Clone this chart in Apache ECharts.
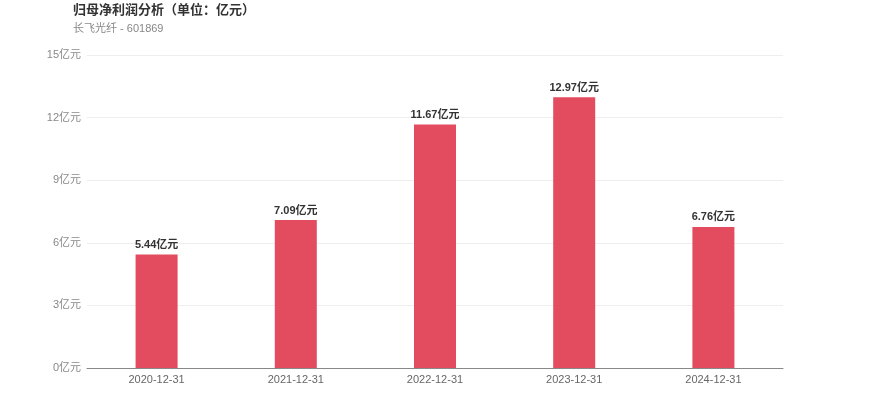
<!DOCTYPE html>
<html><head><meta charset="utf-8">
<script src="https://cdn.jsdelivr.net/npm/echarts@6/dist/echarts.min.js"></script>
<style>html,body{margin:0;padding:0;background:#fff}#c{width:870px;height:417px}</style>
</head><body><div id="c"></div>
<script>
const categories = ['2020-12-31','2021-12-31','2022-12-31','2023-12-31','2024-12-31'];
const values = [5.44, 7.09, 11.67, 12.97, 6.76];
const unit = '亿元';
const ff = '"Liberation Sans", "Noto Sans CJK SC", sans-serif';
const chart = echarts.init(document.getElementById('c'));
chart.setOption({
  animation: false,
  title: {
    text: '归母净利润分析（单位：亿元）',
    subtext: '长飞光纤 - 601869',
    left: 68, top: -1,
    textStyle: {fontSize: 13, fontWeight: 'bold', color: '#333', fontFamily: ff},
    subtextStyle: {fontSize: 11, color: '#888', fontFamily: ff},
    itemGap: 6
  },
  grid: {left: 87, right: 87, top: 55, bottom: 49},
  xAxis: {
    type: 'category', data: categories,
    axisLine: {lineStyle: {color: '#888'}},
    axisTick: {show: false},
    axisLabel: {color: '#666', fontSize: 11, margin: 6, fontFamily: ff}
  },
  yAxis: {
    type: 'value', min: 0, max: 15, interval: 3,
    axisLabel: {formatter: v => v + unit, color: '#888', fontSize: 11, margin: 6, fontFamily: ff},
    splitLine: {lineStyle: {color: '#eee'}}
  },
  series: [{
    type: 'bar', data: values, barWidth: 42,
    itemStyle: {color: '#E34B5F'},
    label: {show: true, position: 'top', formatter: p => p.value.toFixed(2) + unit,
      color: '#333', fontWeight: 'bold', fontSize: 11, distance: 4, fontFamily: ff}
  }]
});
</script></body></html>
